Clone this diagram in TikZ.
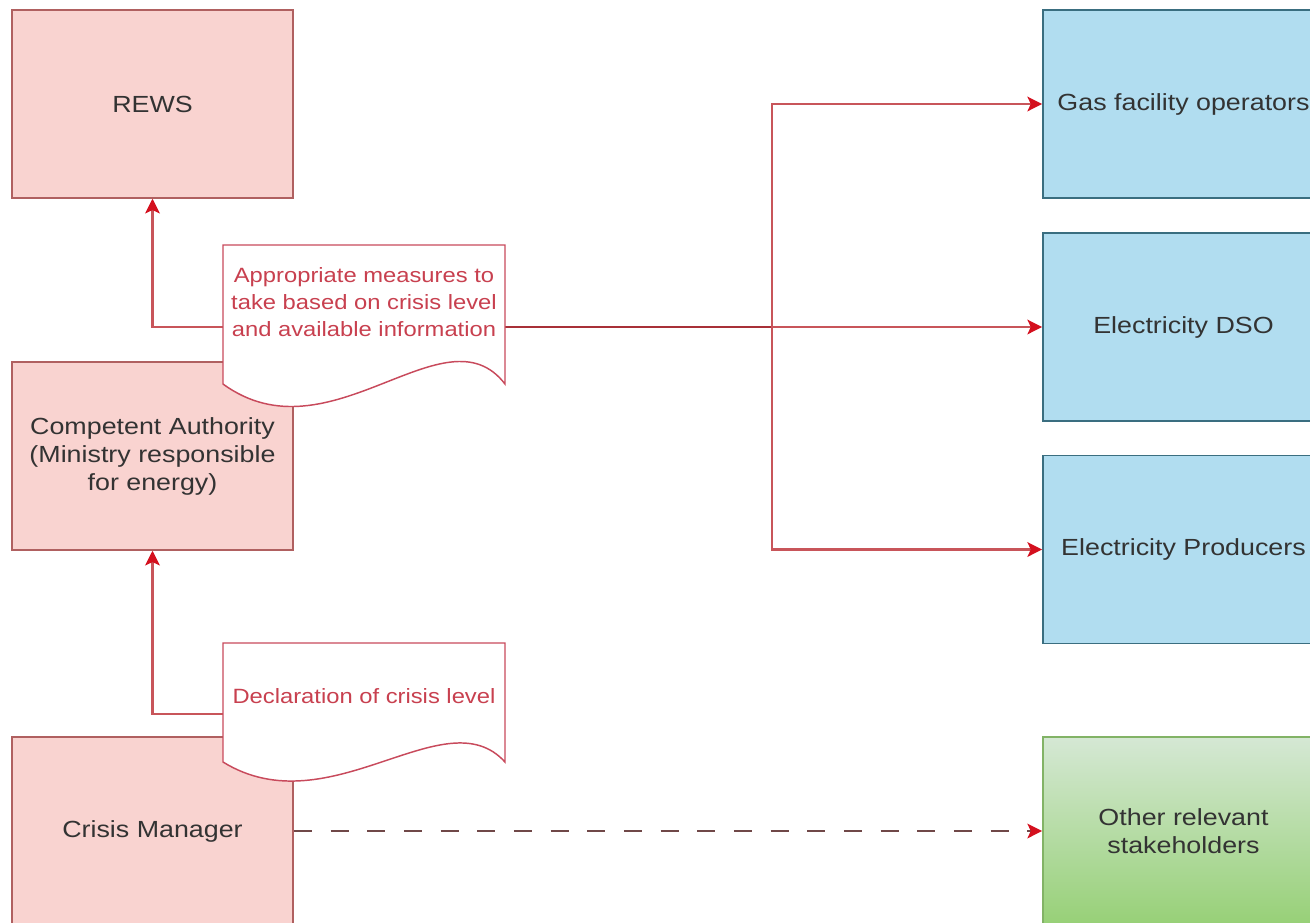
\documentclass[tikz,border=0pt]{standalone}
\usepackage{fontspec}
\setmainfont{Liberation Sans}[FakeStretch=1.15]
\usetikzlibrary{arrows.meta}
\definecolor{pinkfill}{HTML}{F9D3D0}
\definecolor{pinkline}{HTML}{B06060}
\definecolor{bluefill}{HTML}{B1DDF0}
\definecolor{blueline}{HTML}{3A6E80}
\definecolor{greentop}{HTML}{D5E8D4}
\definecolor{greenbot}{HTML}{97D077}
\definecolor{greenline}{HTML}{82B366}
\definecolor{textgray}{HTML}{333333}
\definecolor{docred}{HTML}{C8404F}
\definecolor{docline}{HTML}{C84A5C}
\definecolor{wirered}{HTML}{C8555A}
\definecolor{wiredark}{HTML}{A83038}
\definecolor{arrowred}{HTML}{D4101E}
\definecolor{dashwire}{HTML}{704848}
\def\docshape[#1](#2,#3)(#4,#5)(#6){\draw[#1] (#2,#3) -- (#4,#3) -- (#4,#5) .. controls ({#4-60},{#5-#6}) and ({#2+107},{#5+#6}) .. (#2,#5) -- cycle;}

\begin{document}
\begin{tikzpicture}[x=0.75pt, y=-0.75pt,
    box/.style={minimum width=211pt, minimum height=141pt, inner sep=0pt, align=center, line width=1.1pt, text=textgray, font=\fontsize{17.5}{21}\selectfont},
    redbox/.style={box, draw=pinkline, fill=pinkfill},
    bluebox/.style={box, draw=blueline, fill=bluefill},
    greenbox/.style={box, draw=greenline, top color=greentop, bottom color=greenbot},
    notetext/.style={align=center, text=docred, inner sep=0pt, font=\fontsize{15.5}{20}\selectfont},
    wire/.style={draw=wirered, line width=1.6pt},
    flow/.style={wire, -{Stealth[length=11pt, width=11pt, inset=2.5pt, color=arrowred]}}]
    %%%%% START %%%%%
    \clip (0,0) rectangle (1310,922);

    % left column
    \node[redbox] (rews) at (152.5,104) {REWS};
    \node[redbox] (ca) at (152.5,456) {Competent Authority\\(Ministry responsible\\for energy)};
    \node[redbox] (cm) at (152.5,831) {Crisis Manager};

    % right column
    \node[bluebox] (gas) at (1183.5,104) {Gas facility operators};
    \node[bluebox] (dso) at (1183.5,327) {Electricity DSO};
    \node[bluebox] (prod) at (1183.5,549.5) {Electricity Producers};
    \node[greenbox] (other) at (1183.5,831) {Other relevant\\stakeholders};

    % connectors
    \coordinate (m1in) at (223,327);
    \coordinate (m1out) at (505,327);
    \coordinate (split) at (772,327);
    \coordinate (m2in) at (223,714);

    \draw[flow] (m1in) -| (rews.south);
    \draw[wire, draw=wiredark] (m1out) -- (split);
    \draw[flow] (split) |- (gas.west);
    \draw[flow] (split) -- (dso.west);
    \draw[flow] (split) |- (prod.west);
    \draw[flow] (m2in) -| (ca.south);
    \draw[flow, draw=dashwire, dash pattern=on 13.5pt off 14pt] (cm.east) -- (other.west);

    % messages
    \docshape[draw=docline, fill=white, line width=1.1pt](223,245)(505,384)(78)
    \node[notetext] (measures) at (364,302) {Appropriate measures to\\take based on crisis level\\and available information};

    \docshape[draw=docline, fill=white, line width=1.1pt](223,643)(505,762)(66)
    \node[notetext] (declare) at (364,696) {Declaration of crisis level};
    %%%%% END %%%%%
\end{tikzpicture}
\end{document}
